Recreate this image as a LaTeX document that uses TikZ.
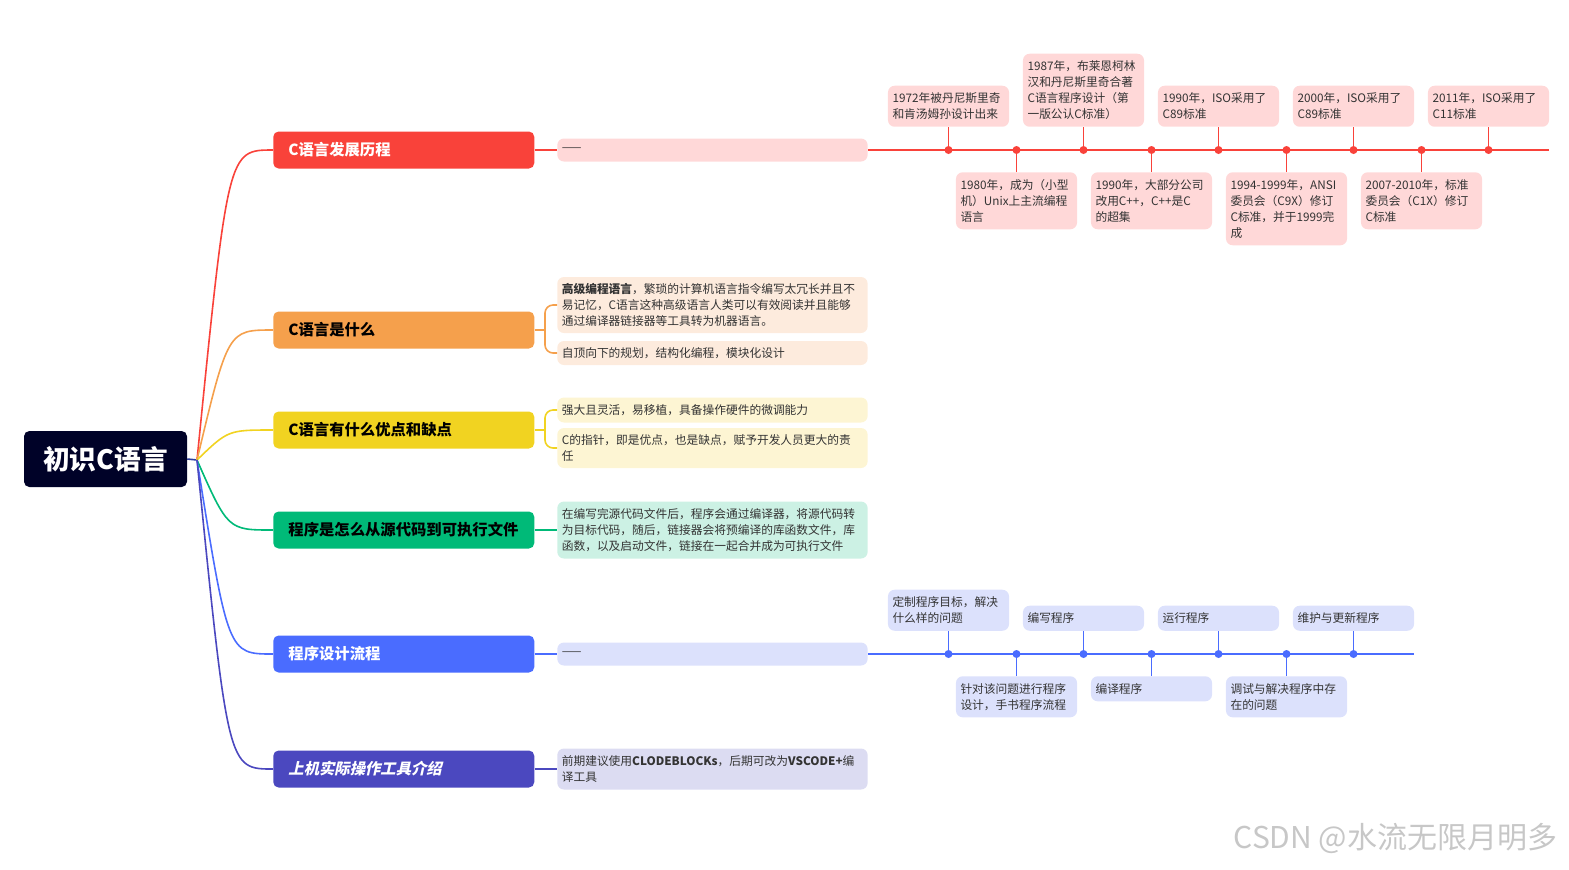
\documentclass[tikz,border=0pt]{standalone}
\usepackage{fontspec}
\setmainfont{Noto Sans CJK SC}
\newfontfamily\slantfont{Noto Sans CJK SC}[FakeSlant=0.22, BoldFeatures={FakeSlant=0.22}]
\usetikzlibrary{positioning}

\definecolor{cRoot}{HTML}{000228}
\definecolor{cHub}{HTML}{2E3F9E}
\definecolor{cRed}{HTML}{F9423A}
\definecolor{cRedL}{HTML}{FFD8D8}
\definecolor{cOra}{HTML}{F5A04C}
\definecolor{cOraL}{HTML}{FDEBDD}
\definecolor{cYel}{HTML}{F1D321}
\definecolor{cYelL}{HTML}{FDF5D3}
\definecolor{cGrn}{HTML}{00BA78}
\definecolor{cGrnL}{HTML}{CCF1E4}
\definecolor{cBlu}{HTML}{4A6CFF}
\definecolor{cBluL}{HTML}{DCE1FC}
\definecolor{cInd}{HTML}{4B48BF}
\definecolor{cIndL}{HTML}{DCDCF2}
\definecolor{cText}{HTML}{333333}

\begin{document}
\begin{tikzpicture}[
    x=0.75pt, y=-0.75pt,
    root/.style={rounded corners=4pt, fill=cRoot, text=white, minimum width=163*0.75pt, minimum height=56*0.75pt, font=\fontsize{20}{23}\selectfont\bfseries},
    topic/.style={rounded corners=4pt, anchor=west, minimum width=261*0.75pt, minimum height=37*0.75pt, text width=173pt, inner xsep=11.25pt, align=left, font=\fontsize{11.5}{13}\selectfont\bfseries},
    leaf/.style={rounded corners=5pt, anchor=west, text width=226pt, inner xsep=3.4pt, inner ysep=2pt, align=left, text=cText, font=\fontsize{8.8}{12}\selectfont},
    stamp/.style={rounded corners=5pt, text width=84pt, inner xsep=3.4pt, inner ysep=2pt, align=left, text=cText, font=\fontsize{8.8}{12}\selectfont},
    dot/.style={circle, inner sep=0pt, minimum size=6pt},
    link/.style={line width=1.2pt}
]
\useasboundingbox (0,0) rectangle (1569,869);

% Nodo centrale
\node[root] (root) at (105.5,459) {初识C语言};
\coordinate (hub) at (197,460);
\draw[link, cHub] (root.east) -- (hub);

% Rami principali
\node[topic, fill=cRed, text=white] (t1) at (273,150) {C语言发展历程};
\node[topic, fill=cOra] (t2) at (273,330) {C语言是什么};
\node[topic, fill=cYel] (t3) at (273,430) {C语言有什么优点和缺点};
\node[topic, fill=cGrn] (t4) at (273,530) {程序是怎么从源代码到可执行文件};
\node[topic, fill=cBlu, text=white] (t5) at (273,654) {程序设计流程};
\node[topic, fill=cInd, text=white] (t6) at (273,769) {\slantfont\bfseries 上机实际操作工具介绍};

\draw[link, cRed] (hub) .. controls (228,150) and (228,150) .. (t1.west);
\draw[link, cOra] (hub) .. controls (228,330) and (228,330) .. (t2.west);
\draw[link, cYel] (hub) .. controls (228,430) and (228,430) .. (t3.west);
\draw[link, cGrn] (hub) .. controls (228,530) and (228,530) .. (t4.west);
\draw[link, cBlu] (hub) .. controls (228,654) and (228,654) .. (t5.west);
\draw[link, cInd] (hub) .. controls (228,769) and (228,769) .. (t6.west);

% Foglie
\node[leaf, fill=cRedL, minimum height=23*0.75pt] (c1) at (557,150) {\raisebox{-0.3ex}{——}};
\node[leaf, fill=cOraL, minimum height=56*0.75pt] (c21) at (557,305) {\textbf{高级编程语言}，繁琐的计算机语言指令编写太冗长并且不\\易记忆，C语言这种高级语言人类可以有效阅读并且能够\\通过编译器链接器等工具转为机器语言。};
\node[leaf, fill=cOraL, minimum height=24*0.75pt] (c22) at (557,353) {自顶向下的规划，结构化编程，模块化设计};
\node[leaf, fill=cYelL, minimum height=25*0.75pt] (c31) at (557,410) {强大且灵活，易移植，具备操作硬件的微调能力};
\node[leaf, fill=cYelL, minimum height=40*0.75pt] (c32) at (557,448) {C的指针，即是优点，也是缺点，赋予开发人员更大的责\\任};
\node[leaf, fill=cGrnL, minimum height=57*0.75pt] (c4) at (557,530) {在编写完源代码文件后，程序会通过编译器，将源代码转\\为目标代码，随后，链接器会将预编译的库函数文件，库\\函数，以及启动文件，链接在一起合并成为可执行文件};
\node[leaf, fill=cBluL, minimum height=23*0.75pt] (c5) at (557,654) {\raisebox{-0.3ex}{——}};
\node[leaf, fill=cIndL, minimum height=41*0.75pt] (c6) at (557,769) {前期建议使用\textbf{CLODEBLOCKs}，后期可改为\textbf{VSCODE+}编\\译工具};

\coordinate (j2) at (545,330);
\coordinate (j3) at (545,430);
\draw[link, cRed] (t1.east) -- (c1.west);
\draw[link, cOra] (t2.east) -- (j2);
\draw[link, cOra, rounded corners=6pt] (c21.west) -| (j2) |- (c22.west);
\draw[link, cYel] (t3.east) -- (j3);
\draw[link, cYel, rounded corners=6pt] (c31.west) -| (j3) |- (c32.west);
\draw[link, cGrn] (t4.east) -- (c4.west);
\draw[link, cBlu] (t5.east) -- (c5.west);
\draw[link, cInd] (t6.east) -- (c6.west);

% Linea del tempo: storia
\coordinate (e1) at (1549,150);
\draw[link, cRed] (c1.east) -- (e1);

\node[stamp, fill=cRedL, anchor=south, minimum height=41*0.75pt] (h1) at (948.5,127) {1972年被丹尼斯里奇\\和肯汤姆孙设计出来};
\node[stamp, fill=cRedL, anchor=south, minimum height=73*0.75pt] (h3) at (1083.5,127) {1987年，布莱恩柯林\\汉和丹尼斯里奇合著\\C语言程序设计（第\\一版公认C标准）};
\node[stamp, fill=cRedL, anchor=south, minimum height=41*0.75pt] (h5) at (1218.5,127) {1990年，ISO采用了\\C89标准};
\node[stamp, fill=cRedL, anchor=south, minimum height=41*0.75pt] (h7) at (1353.5,127) {2000年，ISO采用了\\C89标准};
\node[stamp, fill=cRedL, anchor=south, minimum height=41*0.75pt] (h9) at (1488.5,127) {2011年，ISO采用了\\C11标准};

\node[stamp, fill=cRedL, anchor=north, minimum height=57*0.75pt] (h2) at (1016.5,172) {1980年，成为（小型\\机）Unix上主流编程\\语言};
\node[stamp, fill=cRedL, anchor=north, minimum height=57*0.75pt] (h4) at (1151.5,172) {1990年，大部分公司\\改用C++，C++是C\\的超集};
\node[stamp, fill=cRedL, anchor=north, minimum height=73*0.75pt] (h6) at (1286.5,172) {1994-1999年，ANSI\\委员会（C9X）修订\\C标准，并于1999完\\成};
\node[stamp, fill=cRedL, anchor=north, minimum height=57*0.75pt] (h8) at (1421.5,172) {2007-2010年，标准\\委员会（C1X）修订\\C标准};

\node[dot, fill=cRed] (d1) at (948.5,150) {};
\node[dot, fill=cRed] (d2) at (1016.5,150) {};
\node[dot, fill=cRed] (d3) at (1083.5,150) {};
\node[dot, fill=cRed] (d4) at (1151.5,150) {};
\node[dot, fill=cRed] (d5) at (1218.5,150) {};
\node[dot, fill=cRed] (d6) at (1286.5,150) {};
\node[dot, fill=cRed] (d7) at (1353.5,150) {};
\node[dot, fill=cRed] (d8) at (1421.5,150) {};
\node[dot, fill=cRed] (d9) at (1488.5,150) {};

\draw[link, cRed] (h1.south) -- (d1.center);
\draw[link, cRed] (h2.north) -- (d2.center);
\draw[link, cRed] (h3.south) -- (d3.center);
\draw[link, cRed] (h4.north) -- (d4.center);
\draw[link, cRed] (h5.south) -- (d5.center);
\draw[link, cRed] (h6.north) -- (d6.center);
\draw[link, cRed] (h7.south) -- (d7.center);
\draw[link, cRed] (h8.north) -- (d8.center);
\draw[link, cRed] (h9.south) -- (d9.center);

% Linea del tempo: flusso
\coordinate (e5) at (1414,654);
\draw[link, cBlu] (c5.east) -- (e5);

\node[stamp, fill=cBluL, anchor=south, minimum height=41*0.75pt] (p1) at (948.5,631) {定制程序目标，解决\\什么样的问题};
\node[stamp, fill=cBluL, anchor=south, minimum height=25*0.75pt] (p3) at (1083.5,631) {编写程序};
\node[stamp, fill=cBluL, anchor=south, minimum height=25*0.75pt] (p5) at (1218.5,631) {运行程序};
\node[stamp, fill=cBluL, anchor=south, minimum height=25*0.75pt] (p7) at (1353.5,631) {维护与更新程序};

\node[stamp, fill=cBluL, anchor=north, minimum height=41*0.75pt] (p2) at (1016.5,676) {针对该问题进行程序\\设计，手书程序流程};
\node[stamp, fill=cBluL, anchor=north, minimum height=25*0.75pt] (p4) at (1151.5,676) {编译程序};
\node[stamp, fill=cBluL, anchor=north, minimum height=41*0.75pt] (p6) at (1286.5,676) {调试与解决程序中存\\在的问题};

\node[dot, fill=cBlu] (q1) at (948.5,654) {};
\node[dot, fill=cBlu] (q2) at (1016.5,654) {};
\node[dot, fill=cBlu] (q3) at (1083.5,654) {};
\node[dot, fill=cBlu] (q4) at (1151.5,654) {};
\node[dot, fill=cBlu] (q5) at (1218.5,654) {};
\node[dot, fill=cBlu] (q6) at (1286.5,654) {};
\node[dot, fill=cBlu] (q7) at (1353.5,654) {};

\draw[link, cBlu] (p1.south) -- (q1.center);
\draw[link, cBlu] (p2.north) -- (q2.center);
\draw[link, cBlu] (p3.south) -- (q3.center);
\draw[link, cBlu] (p4.north) -- (q4.center);
\draw[link, cBlu] (p5.south) -- (q5.center);
\draw[link, cBlu] (p6.north) -- (q6.center);
\draw[link, cBlu] (p7.south) -- (q7.center);

% Filigrana
\node[anchor=east, text=black!22, font=\fontsize{22.5}{25}\selectfont] (mark) at (1562,838) {CSDN @水流无限月明多};

\end{tikzpicture}
\end{document}
